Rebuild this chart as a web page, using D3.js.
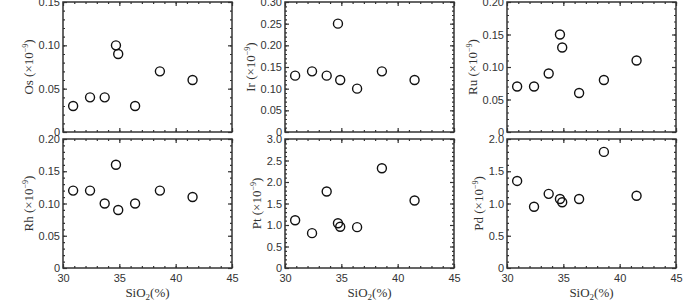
<!DOCTYPE html>
<html>
<head>
<meta charset="utf-8">
<script src="https://cdn.jsdelivr.net/npm/d3@7"></script>
<style>
  body { margin: 0; background: #fff; }
  svg { display: block; }
  .tick text { font-family: "Liberation Sans", Arial, sans-serif; font-size: 11px; fill: #333; }
  .tick line { stroke: #333; }
  .ylab, .xlab { font-family: "Liberation Serif", "Times New Roman", serif; font-size: 13px; fill: #333; }
</style>
</head>
<body>
<div id="chart"></div>
<script>
// SiO2 (%) of the eight samples
const sio2 = [30.9, 32.4, 33.7, 34.7, 34.9, 36.4, 38.6, 41.5];

// PGE contents (x10^-9)
const os = [0.03, 0.04, 0.04, 0.10, 0.09, 0.03, 0.07, 0.06];
const ir = [0.13, 0.14, 0.13, 0.25, 0.12, 0.10, 0.14, 0.12];
const ru = [0.07, 0.07, 0.09, 0.15, 0.13, 0.06, 0.08, 0.11];
const rh = [0.12, 0.12, 0.10, 0.16, 0.09, 0.10, 0.12, 0.11];
const pt = [1.11, 0.81, 1.78, 1.04, 0.96, 0.95, 2.32, 1.57];
const pd = [1.35, 0.95, 1.15, 1.07, 1.02, 1.07, 1.80, 1.12];

const elements = ['Os', 'Ir', 'Ru', 'Rh', 'Pt', 'Pd'];
const series = [os, ir, ru, rh, pt, pd];
const yMax = [0.15, 0.30, 0.20, 0.20, 3.0, 2.0];
const yStep = [0.05, 0.05, 0.05, 0.05, 0.5, 0.5];
const yMinorStep = [0.01, 0.01, 0.01, 0.01, 0.1, 0.1];
const yDecimals = [2, 2, 2, 2, 1, 1];
const xTicks = [30, 35, 40, 45];
const xMinorTicks = d3.range(30, 45.01, 1);

const width = 700, height = 300;
const panelW = 169;
const colLeft = [63, 285, 507];
const rowTop = [2, 139];
const rowH = [130, 129];

const svg = d3.select('#chart').append('svg')
	.attr('width', width)
	.attr('height', height);

const range = (max, step) => d3.range(0, Math.round(max / step) + 1).map((i) => +(i * step).toFixed(4));

elements.forEach((el, i) => {
	const col = i % 3, row = Math.floor(i / 3);
	const h = rowH[row];
	const g = svg.append('g').attr('transform', `translate(${colLeft[col]},${rowTop[row]})`);

	const x = d3.scaleLinear().domain([30, 45]).range([0, panelW]);
	const y = d3.scaleLinear().domain([0, yMax[i]]).range([h, 0]);

	const major = range(yMax[i], yStep[i]);
	const minor = range(yMax[i], yMinorStep[i]);
	const fmt = (d) => (d === 0 ? '0' : d.toFixed(yDecimals[i]));

	// minor ticks, all four sides
	g.append('g').call(d3.axisLeft(y).tickValues(minor).tickSize(-2).tickFormat(''));
	g.append('g').attr('transform', `translate(${panelW},0)`)
		.call(d3.axisRight(y).tickValues(minor).tickSize(-2).tickFormat(''));
	g.append('g').attr('transform', `translate(0,${h})`)
		.call(d3.axisBottom(x).tickValues(xMinorTicks).tickSize(-2).tickFormat(''));
	g.append('g')
		.call(d3.axisTop(x).tickValues(xMinorTicks).tickSize(-2).tickFormat(''));

	// major ticks
	const yAxisG = g.append('g')
		.call(d3.axisLeft(y).tickValues(major).tickSize(-4).tickPadding(3).tickFormat(fmt));
	g.append('g').attr('transform', `translate(${panelW},0)`)
		.call(d3.axisRight(y).tickValues(major).tickSize(-4).tickFormat(''));
	g.append('g').attr('transform', `translate(0,${h})`)
		.call(d3.axisBottom(x).tickValues(xTicks).tickSize(-4).tickPadding(6)
			.tickFormat(row === 1 ? d3.format('d') : ''));
	g.append('g')
		.call(d3.axisTop(x).tickValues(xTicks).tickSize(-4).tickFormat(''));

	g.selectAll('.domain').remove();
	g.selectAll('.tick line').attr('stroke', '#333').attr('stroke-width', 1.2);

	g.append('rect')
		.attr('width', panelW)
		.attr('height', h)
		.attr('fill', 'none')
		.attr('stroke', '#333')
		.attr('stroke-width', 1.5);

	// y axis title
	const labW = yAxisG.node().getBBox().width;
	const lab = g.append('text')
		.attr('class', 'ylab')
		.attr('transform', `translate(${-labW - 2},${h / 2}) rotate(-90)`)
		.attr('text-anchor', 'middle');
	lab.append('tspan').text(el + ' (\u00d710');
	lab.append('tspan').attr('dy', -5).attr('font-size', 8).text('\u22129');
	lab.append('tspan').attr('dy', 5).text(')');

	if (row === 1) {
		const xl = g.append('text')
			.attr('class', 'xlab')
			.attr('x', panelW / 2)
			.attr('y', h + 29)
			.attr('text-anchor', 'middle');
		xl.append('tspan').text('SiO');
		xl.append('tspan').attr('dy', 3).attr('font-size', 9).text('2');
		xl.append('tspan').attr('dy', -3).text('(%)');
	}

	g.selectAll('circle')
		.data(series[i])
		.join('circle')
		.attr('cx', (d, k) => x(sio2[k]))
		.attr('cy', (d) => y(d))
		.attr('r', 4.5)
		.attr('fill', 'none')
		.attr('stroke', '#111')
		.attr('stroke-width', 1.4);
});
</script>
</body>
</html>
